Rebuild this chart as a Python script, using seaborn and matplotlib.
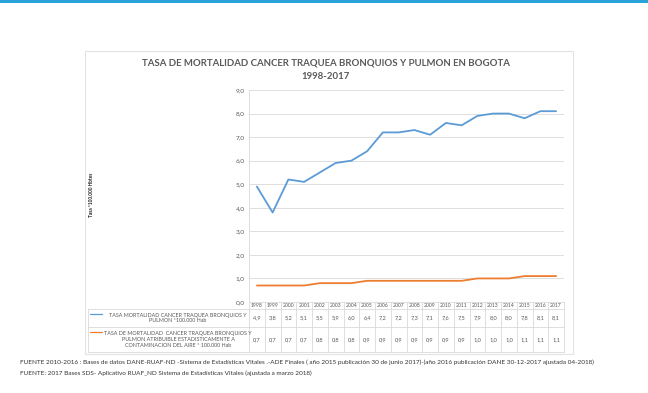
import numpy as np
import pandas as pd
import seaborn as sns
import matplotlib.pyplot as plt
from matplotlib.patches import Rectangle
from matplotlib.lines import Line2D

anios = [1998, 1999, 2000, 2001, 2002, 2003, 2004, 2005, 2006, 2007,
         2008, 2009, 2010, 2011, 2012, 2013, 2014, 2015, 2016, 2017]
tasa_total = [4.9, 3.8, 5.2, 5.1, 5.5, 5.9, 6.0, 6.4, 7.2, 7.2,
              7.3, 7.1, 7.6, 7.5, 7.9, 8.0, 8.0, 7.8, 8.1, 8.1]
tasa_aire = [0.7, 0.7, 0.7, 0.7, 0.8, 0.8, 0.8, 0.9, 0.9, 0.9,
             0.9, 0.9, 0.9, 0.9, 1.0, 1.0, 1.0, 1.1, 1.1, 1.1]
series = [
    "TASA MORTALIDAD CANCER TRAQUEA BRONQUIOS Y\nPULMON *100.000 Hab",
    "TASA DE MORTALIDAD  CANCER TRAQUEA BRONQUIOS Y\nPULMON ATRIBUIBLE ESTADISTICAMENTE A\nCONTAMINACION DEL AIRE * 100.000 Hab",
]
colores = ["#5B9BD5", "#ED7D31"]

df = pd.DataFrame({
    "pos": list(range(len(anios))) * 2,
    "tasa": tasa_total + tasa_aire,
    "serie": [series[0]] * len(anios) + [series[1]] * len(anios),
})

sns.set_theme(style="white")
plt.rcParams["font.family"] = ["Lato", "DejaVu Sans"]
gris = "#595959"
linea = "#D9D9D9"

W, H = 648, 393
fig = plt.figure(figsize=(6.48, 3.93), dpi=100)

def px(x, y):
    return x / W, 1 - y / H

# barra azul superior y marco del grafico
fig.add_artist(Rectangle((0, 1 - 2.5 / H), 1, 2.5 / H, transform=fig.transFigure,
                         color="#2AA3DA", lw=0))
x0, y0 = px(85, 354)
x1, y1 = px(573, 51)
fig.add_artist(Rectangle((x0, y0), x1 - x0, y1 - y0, transform=fig.transFigure,
                         fill=False, ec="#E3E3E3", lw=0.8))

ax_l, ax_b = px(249, 302)
ax = fig.add_axes([ax_l, ax_b, 315 / W, 212 / H])

sns.lineplot(data=df, x="pos", y="tasa", hue="serie", palette=colores,
             linewidth=1.3, legend=False, ax=ax)

ax.set_xlim(-0.5, len(anios) - 0.5)
ax.set_ylim(0, 9)
ax.set_yticks(np.arange(0, 10, 1))
ax.set_yticklabels([f"{v:.1f}".replace(".", ",") for v in np.arange(0, 10, 1)],
                   fontsize=4.6, color=gris)
ax.tick_params(axis="y", length=0, pad=3)
ax.set_xticks([])
ax.set_xlabel("")
ax.set_ylabel("")
ax.yaxis.grid(True, color=linea, lw=0.6)
for s in ["top", "right", "bottom"]:
    ax.spines[s].set_visible(False)
ax.spines["left"].set_color(linea)
ax.spines["left"].set_linewidth(0.6)

# tabla de datos debajo del eje
tr = ax.get_xaxis_transform()
h_ax = 212.0
def ya(ypx):
    return (302 - ypx) / h_ax

filas = [302, 309, 327, 352]
leg_left = (88 - 249) / 315.0
n = len(anios)
for yy in filas:
    if yy == 302:
        ax.plot([-0.5, n - 0.5], [ya(yy)] * 2, transform=tr, color=linea, lw=0.6, clip_on=False)
    else:
        ax.add_artist(Line2D([leg_left, 1], [ya(yy)] * 2, transform=ax.transAxes,
                             color=linea, lw=0.6, clip_on=False))
for i in range(n + 1):
    ax.plot([i - 0.5, i - 0.5], [ya(302), ya(352)], transform=tr, color=linea,
            lw=0.6, clip_on=False)
ax.add_artist(Line2D([leg_left, leg_left], [ya(309), ya(352)], transform=ax.transAxes,
                     color=linea, lw=0.6, clip_on=False))

for i, a in enumerate(anios):
    ax.text(i, ya(305.5), str(a), transform=tr, ha="center", va="center",
            fontsize=3.7, color=gris)
    ax.text(i, ya(318), f"{tasa_total[i]:.1f}".replace(".", ","), transform=tr,
            ha="center", va="center", fontsize=4.1, color=gris)
    ax.text(i, ya(339.5), f"{tasa_aire[i]:.1f}".replace(".", ","), transform=tr,
            ha="center", va="center", fontsize=4.1, color=gris)

leg_w = -leg_left
for k, (lab, yc) in enumerate(zip(series, [318, 339.5])):
    yl = ya(309 if k == 0 else 327) - 0.025
    ax.add_artist(Line2D([leg_left + 0.005, leg_left + 0.045], [yl, yl],
                         transform=ax.transAxes, color=colores[k], lw=0.9, clip_on=False))
    ax.text(leg_left + leg_w * 0.56, ya(yc), lab, transform=ax.transAxes,
            ha="center", va="center", fontsize=3.85, color=gris, linespacing=1.25)

# titulo, etiqueta del eje y fuentes
fig.text(*px(326, 63), "TASA DE MORTALIDAD CANCER TRAQUEA BRONQUIOS Y PULMON EN BOGOTA",
         ha="center", va="center", fontsize=6.9, color=gris, fontweight="bold")
fig.text(*px(326, 76.5), "1998-2017", ha="center", va="center", fontsize=6.9,
         color=gris, fontweight="bold")
fig.text(*px(91, 195), "Tasa *100.000 Hbtes", rotation=90, ha="center", va="center",
         fontsize=3.4, color="#222222", fontweight="bold")
fig.text(*px(20, 362), "FUENTE 2010-2016 : Bases de datos DANE-RUAF-ND -Sistema de Estadísticas Vitales .-ADE Finales ( año 2015 publicación 30 de junio 2017)-(año 2016 publicación DANE 30-12-2017 ajustada 04-2018)",
         ha="left", va="center", fontsize=4.55, color="#333333")
fig.text(*px(20, 373), "FUENTE: 2017 Bases SDS- Aplicativo RUAF_ND Sistema de Estadísticas Vitales (ajustada a marzo 2018)",
         ha="left", va="center", fontsize=4.55, color="#333333")

fig.savefig("out.png", dpi=100, facecolor="white")
